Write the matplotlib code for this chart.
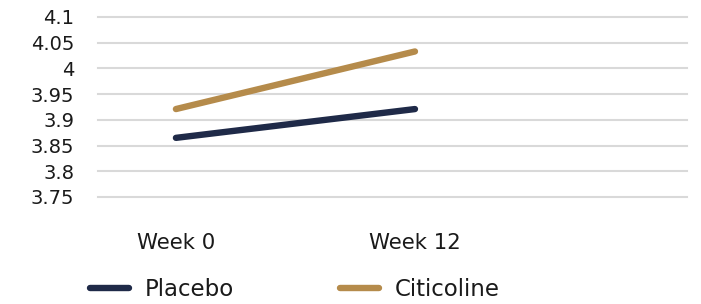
import matplotlib
matplotlib.use("Agg")
import matplotlib.pyplot as plt
from matplotlib.lines import Line2D

categories = ["Week 0", "Week 12"]
placebo = [3.865, 3.921]
citicoline = [3.921, 4.033]
series_names = ["Placebo", "Citicoline"]
yticks = [3.75, 3.8, 3.85, 3.9, 3.95, 4.0, 4.05, 4.1]
ytick_labels = ["3.75", "3.8", "3.85", "3.9", "3.95", "4", "4.05", "4.1"]

plt.rcParams['font.family'] = ['DejaVu Sans']

W, H = 701, 304
fig = plt.figure(figsize=(W/100, H/100), dpi=100)
ax = fig.add_axes([98/W, 1-197/H, (687-98)/W, (197-17)/H])

navy = "#1f2a48"
gold = "#b58b4b"
colors = [navy, gold]
x = list(range(len(categories)))
ax.plot(x, placebo, color=navy, lw=4.6, solid_capstyle='round')
ax.plot(x, citicoline, color=gold, lw=4.6, solid_capstyle='round')

ax.set_ylim(3.75, 4.1)
ax.set_xlim(-0.326, 2.138)
ax.set_yticks(yticks)
ax.set_yticklabels(ytick_labels)
ax.set_xticks(x)
ax.set_xticklabels(categories)
ax.grid(axis='y', color='#d9d9d9', lw=1.5)
for gl in ax.get_ygridlines():
    gl.set_clip_on(False)
ax.set_axisbelow(True)
for s in ax.spines.values():
    s.set_visible(False)
ax.tick_params(axis='y', length=0, pad=17, labelsize=14, labelcolor='#1a1a1a')
ax.tick_params(axis='x', length=0, pad=26, labelsize=15.3, labelcolor='#1a1a1a')

anchors = [90, 340]
for name, col, ax0 in zip(series_names, colors, anchors):
    h = Line2D([], [], color=col, lw=4.6, solid_capstyle='round')
    leg = fig.legend([h], [name], loc='center left',
                     bbox_to_anchor=(ax0/W, 1-290/H), frameon=False,
                     fontsize=16.5, handlelength=1.7, handletextpad=0.7,
                     borderaxespad=0, borderpad=0)
    for t in leg.get_texts():
        t.set_color('#1a1a1a')

fig.savefig("out.png", dpi=100)
